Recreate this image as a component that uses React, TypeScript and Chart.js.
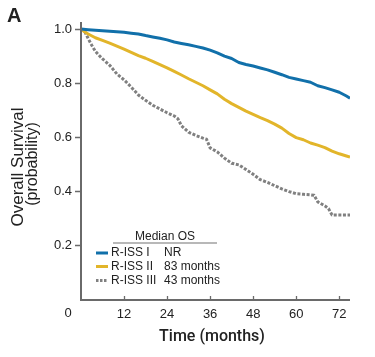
import React, { useEffect, useRef } from "react";
import { Chart, registerables } from "chart.js";

Chart.register(...registerables);

// ---- data ----
const TIME_I = [0, 2, 4, 6, 8, 10, 12, 14, 16, 18, 20, 22, 24, 26, 28, 30, 32, 34, 36, 38, 40, 42, 44, 46, 48, 50, 52, 54, 56, 58, 60, 62, 64, 66, 68, 70, 72, 74, 75];
const SURV_I = [1.0, 0.998, 0.996, 0.994, 0.992, 0.99, 0.988, 0.985, 0.982, 0.976, 0.971, 0.966, 0.96, 0.952, 0.947, 0.942, 0.936, 0.93, 0.922, 0.912, 0.9, 0.891, 0.876, 0.869, 0.863, 0.856, 0.849, 0.84, 0.831, 0.821, 0.815, 0.809, 0.803, 0.79, 0.783, 0.775, 0.766, 0.752, 0.744];

const TIME_II = [0, 1, 2, 4, 6, 8, 10, 12, 14, 16, 18, 20, 22, 24, 26, 28, 30, 32, 34, 36, 38, 40, 42, 44, 46, 48, 50, 52, 54, 56, 58, 60, 62, 64, 66, 68, 70, 72, 74, 75];
const SURV_II = [1.0, 0.99, 0.982, 0.968, 0.958, 0.948, 0.937, 0.926, 0.914, 0.902, 0.892, 0.88, 0.868, 0.856, 0.843, 0.83, 0.816, 0.803, 0.79, 0.775, 0.76, 0.74, 0.724, 0.71, 0.696, 0.684, 0.672, 0.661, 0.648, 0.633, 0.613, 0.598, 0.59, 0.578, 0.57, 0.561, 0.548, 0.538, 0.53, 0.526];

const TIME_III = [0, 1, 2, 3, 4, 5, 6, 8, 10, 12, 14, 16, 18, 20, 22, 24, 26, 27, 28, 30, 32, 34, 35, 36, 38, 40, 42, 44, 46, 48, 50, 52, 54, 56, 58, 60, 62, 64, 65, 66, 68, 69, 70, 75];
const SURV_III = [1.0, 0.992, 0.965, 0.94, 0.918, 0.903, 0.89, 0.866, 0.834, 0.812, 0.785, 0.756, 0.736, 0.718, 0.704, 0.69, 0.678, 0.668, 0.642, 0.618, 0.606, 0.596, 0.592, 0.56, 0.545, 0.522, 0.503, 0.497, 0.48, 0.462, 0.442, 0.432, 0.42, 0.408, 0.398, 0.39, 0.388, 0.386, 0.384, 0.36, 0.345, 0.335, 0.311, 0.311];

const SERIES_NAMES = ["R-ISS I", "R-ISS II", "R-ISS III"];
const MEDIAN_OS = ["NR", "83 months", "43 months"];
const X_TICKS = [0, 12, 24, 36, 48, 60, 72];
const Y_TICKS = [0.2, 0.4, 0.6, 0.8, 1.0];

const COLORS = ["#1170aa", "#e2b52a", "#808080"];
const FONT = "'Liberation Sans', Arial, sans-serif";

function pts(t: number[], s: number[]) {
  return t.map((x, i) => ({ x, y: s[i] }));
}

const decor = {
  id: "decor",
  afterDraw(chart: any) {
    const ctx = chart.ctx as CanvasRenderingContext2D;
    const xs = chart.scales.x;
    const ys = chart.scales.y;
    const x0 = xs.getPixelForValue(0);
    const y0 = ys.getPixelForValue(0);
    const xEnd = chart.chartArea.right;
    const yTop = chart.chartArea.top + 1;
    ctx.save();
    ctx.strokeStyle = "#6a6a6a";
    ctx.lineWidth = 2;
    ctx.beginPath();
    ctx.moveTo(x0, yTop);
    ctx.lineTo(x0, y0 + 1);
    ctx.lineTo(xEnd, y0 + 1);
    ctx.stroke();
    ctx.lineWidth = 1.3;
    ctx.beginPath();
    Y_TICKS.forEach((v) => {
      const py = Math.round(ys.getPixelForValue(v)) + 0.5;
      ctx.moveTo(x0 - 6, py);
      ctx.lineTo(x0, py);
    });
    X_TICKS.forEach((v) => {
      if (v === 0) return;
      const px = Math.round(xs.getPixelForValue(v)) + 0.5;
      ctx.moveTo(px, y0 - 3);
      ctx.lineTo(px, y0);
    });
    ctx.stroke();

    // "0" origin label
    ctx.fillStyle = "#222";
    ctx.font = `13px ${FONT}`;
    ctx.textAlign = "center";
    ctx.textBaseline = "middle";
    ctx.fillText(String(X_TICKS[0]), x0 - 13, 313);

    // panel letter
    ctx.font = `bold 20px ${FONT}`;
    ctx.textAlign = "left";
    ctx.textBaseline = "alphabetic";
    ctx.fillText("A", 7, 22);

    // axis titles
    ctx.textAlign = "center";
    ctx.textBaseline = "middle";
    ctx.font = `500 16px Roboto, ${FONT}`;
    ctx.fillText("Time (months)", 212, 337);

    ctx.save();
    ctx.translate(18, 167);
    ctx.rotate(-Math.PI / 2);
    ctx.font = `17px ${FONT}`;
    ctx.fillText("Overall Survival", 0, 0);
    ctx.restore();
    ctx.save();
    ctx.translate(33, 164);
    ctx.rotate(-Math.PI / 2);
    ctx.font = `16px ${FONT}`;
    ctx.fillText("(probability)", 0, 0);
    ctx.restore();

    // legend
    ctx.font = `12px ${FONT}`;
    ctx.textAlign = "center";
    ctx.fillText("Median OS", 165, 237);
    ctx.strokeStyle = "#a0a0a0";
    ctx.lineWidth = 1.5;
    ctx.beginPath();
    ctx.moveTo(113, 243);
    ctx.lineTo(217, 243);
    ctx.stroke();
    const rows = [253, 266.5, 280.5];
    SERIES_NAMES.forEach((name, i) => {
      const y = rows[i];
      ctx.strokeStyle = COLORS[i];
      ctx.lineWidth = 3;
      ctx.setLineDash(i === 2 ? [2.5, 1.5] : []);
      ctx.beginPath();
      ctx.moveTo(96, y);
      ctx.lineTo(108, y);
      ctx.stroke();
      ctx.setLineDash([]);
      ctx.fillStyle = "#222";
      ctx.textAlign = "left";
      ctx.fillText(name, 111, y);
      ctx.fillText(MEDIAN_OS[i], 164, y);
    });
    ctx.restore();
  },
};

export default function App() {
  const ref = useRef<HTMLCanvasElement | null>(null);
  useEffect(() => {
    if (!ref.current) return;
    const chart = new Chart(ref.current, {
      type: "line",
      data: {
        datasets: [
          { label: SERIES_NAMES[0], data: pts(TIME_I, SURV_I), borderColor: COLORS[0], borderWidth: 3 },
          { label: SERIES_NAMES[1], data: pts(TIME_II, SURV_II), borderColor: COLORS[1], borderWidth: 3 },
          { label: SERIES_NAMES[2], data: pts(TIME_III, SURV_III), borderColor: COLORS[2], borderWidth: 3, borderDash: [3, 1.6] },
        ].map((d) => ({ ...d, stepped: false, pointRadius: 0, fill: false, tension: 0, borderJoinStyle: "round" })) as any,
      },
      options: {
        animation: false,
        responsive: false,
        devicePixelRatio: 1,
        layout: { padding: { top: 21, right: 25, left: 0, bottom: 0 } },
        plugins: { legend: { display: false }, tooltip: { enabled: false } },
        scales: {
          x: {
            type: "linear",
            min: 0,
            max: 75,
            afterBuildTicks: (s: any) => {
              s.ticks = X_TICKS.map((v) => ({ value: v }));
            },
            afterFit: (s: any) => {
              s.height = 58;
            },
            grid: { display: false, drawTicks: false },
            border: { display: false },
            ticks: {
              padding: 8,
              maxRotation: 0,
              autoSkip: false,
              color: "#222",
              font: { size: 13, family: FONT },
              callback: (v: any) => (v === 0 ? "" : String(v)),
            },
          },
          y: {
            type: "linear",
            min: 0,
            max: 1.03,
            afterBuildTicks: (s: any) => {
              s.ticks = Y_TICKS.map((v) => ({ value: v }));
            },
            afterFit: (s: any) => {
              s.width = 81;
            },
            grid: { display: false, drawTicks: false },
            border: { display: false },
            ticks: {
              padding: 9,
              autoSkip: false,
              color: "#222",
              font: { size: 13, family: FONT },
              callback: (v: any) => Number(v).toFixed(1),
            },
          },
        },
      },
      plugins: [decor],
    });
    return () => chart.destroy();
  }, []);
  return (
    <div style={{ position: "fixed", left: 0, top: 0, width: 375, height: 357, background: "#fff" }}>
      <canvas ref={ref} width={375} height={357} style={{ display: "block" }} />
    </div>
  );
}
